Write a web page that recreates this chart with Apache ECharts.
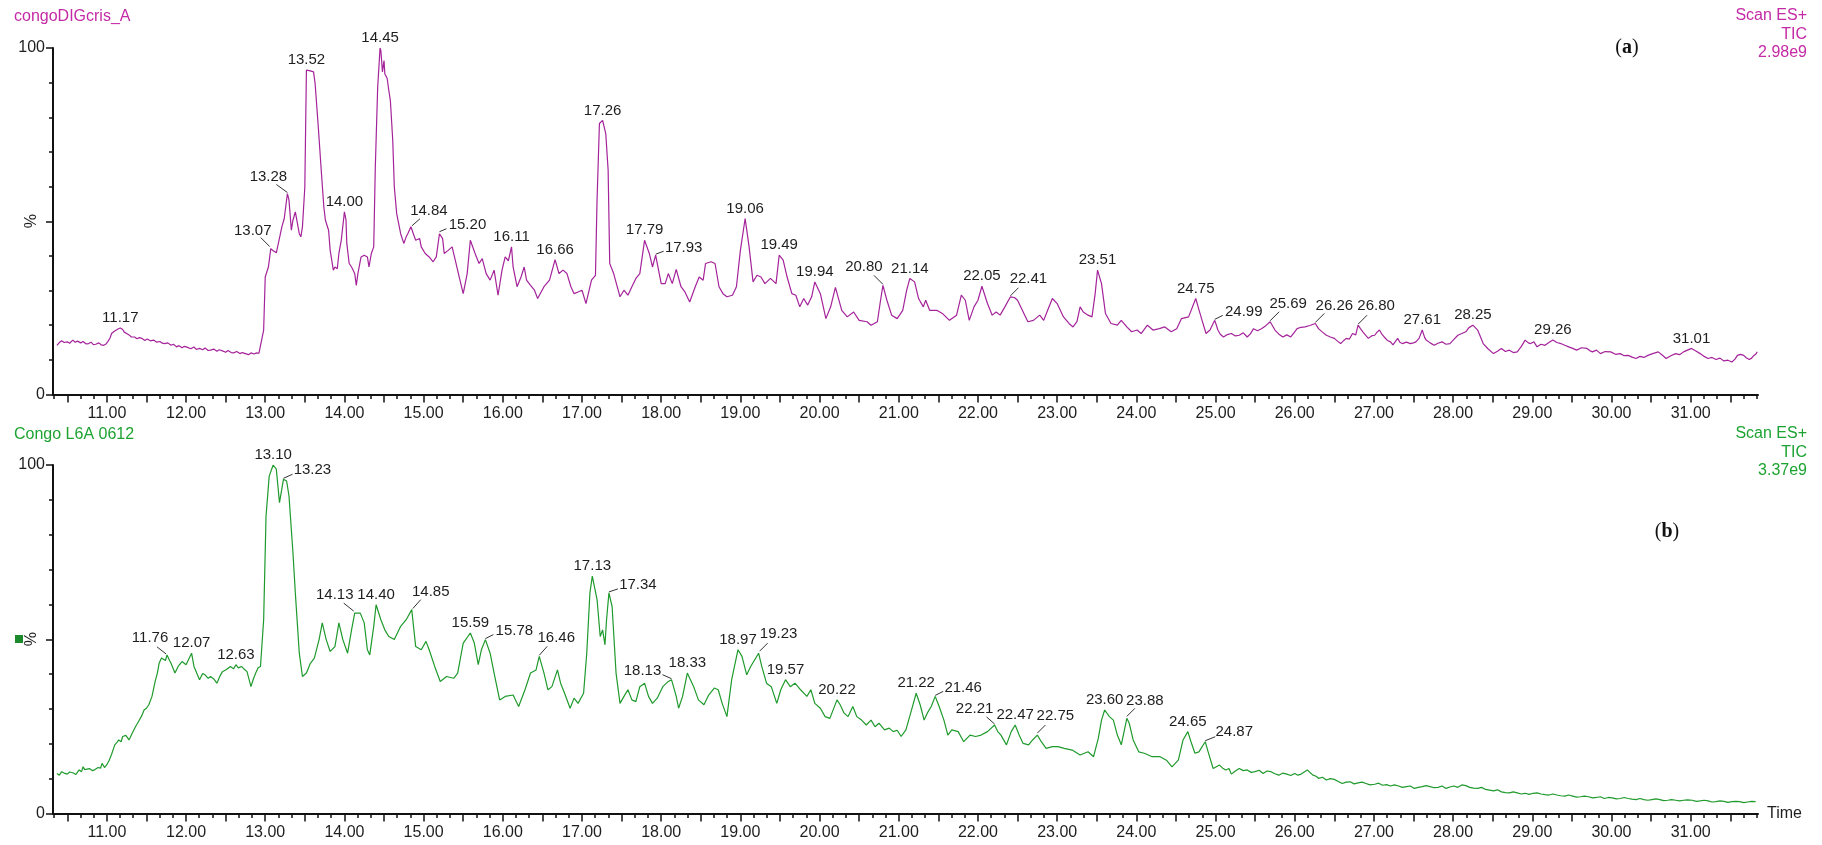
<!DOCTYPE html>
<html>
<head>
<meta charset="utf-8">
<title>TIC chromatograms</title>
<script src="https://cdn.jsdelivr.net/npm/echarts@6/dist/echarts.min.js"></script>
<style>
  html, body { margin: 0; padding: 0; background: #ffffff; }
  #chart { width: 1822px; height: 845px; }
</style>
</head>
<body>
<div id="chart"></div>
<script>
// ---- Data: retention time (min) vs relative intensity (%) ----

// Sample (a): congoDIGcris_A, Scan ES+ TIC, full scale 2.98e9
const traceA = [
  [10.37,14.2],[10.40,15.0],[10.43,15.5],[10.46,15.0],[10.50,15.2],[10.53,14.8],[10.57,15.7],[10.60,15.1],[10.63,15.4],[10.67,14.9],
  [10.70,15.3],[10.74,14.6],[10.77,14.7],[10.80,15.1],[10.83,14.4],[10.86,14.5],[10.90,14.9],[10.93,14.3],[10.96,14.2],[10.99,14.6],
  [11.01,15.2],[11.04,16.3],[11.06,17.6],[11.09,18.2],[11.11,18.75],[11.14,18.9],[11.17,19.2],[11.20,18.75],[11.22,18.0],[11.25,17.6],
  [11.28,17.2],[11.31,16.6],[11.35,16.6],[11.38,16.1],[11.41,16.4],[11.44,16.2],[11.48,15.6],[11.51,16.0],[11.55,15.5],[11.59,15.7],
  [11.63,15.1],[11.67,15.3],[11.70,14.8],[11.73,14.7],[11.77,14.9],[11.81,14.2],[11.84,14.5],[11.88,13.75],[11.91,14.1],[11.95,13.5],
  [11.98,13.9],[12.02,13.6],[12.06,13.2],[12.10,13.7],[12.13,13.0],[12.17,13.3],[12.21,12.9],[12.24,13.4],[12.28,12.7],[12.31,12.8],
  [12.35,13.1],[12.39,12.5],[12.42,12.9],[12.46,12.6],[12.50,12.2],[12.53,12.7],[12.57,12.1],[12.60,12.0],[12.64,12.4],[12.68,11.8],
  [12.71,12.1],[12.75,11.8],[12.79,11.5],[12.82,12.0],[12.86,11.7],[12.89,12.0],[12.92,11.9],[12.94,12.3],[12.98,18.6],[13.00,33.9],
  [13.04,36.8],[13.07,42.1],[13.10,41.5],[13.14,40.9],[13.16,41.4],[13.21,48.4],[13.24,50.8],[13.28,58.0],[13.30,56.1],[13.33,47.4],
  [13.35,50.3],[13.38,52.7],[13.40,52.2],[13.43,46.4],[13.45,45.5],[13.47,48.4],[13.50,59.9],[13.52,93.6],[13.57,93.4],[13.61,93.1],
  [13.63,89.7],[13.67,77.2],[13.71,63.8],[13.74,54.1],[13.76,50.3],[13.80,47.4],[13.82,41.6],[13.86,35.9],[13.88,36.8],[13.91,36.3],
  [13.93,40.7],[13.96,44.5],[14.00,52.7],[14.02,50.3],[14.03,43.6],[14.06,37.8],[14.09,36.8],[14.13,34.9],[14.15,31.5],[14.17,34.9],
  [14.21,39.7],[14.25,40.2],[14.29,39.7],[14.31,36.8],[14.34,40.7],[14.37,42.6],[14.39,65.7],[14.42,88.75],[14.45,100],[14.46,99.3],
  [14.48,93.1],[14.50,96.4],[14.51,92.6],[14.54,91.2],[14.56,87.8],[14.58,84.9],[14.61,73.4],[14.63,59.9],[14.66,52.2],[14.71,46.4],
  [14.75,43.6],[14.78,45.5],[14.80,46.4],[14.84,48.4],[14.87,46.4],[14.90,44.5],[14.95,45.0],[14.97,42.6],[15.02,40.7],[15.07,39.7],
  [15.12,38.3],[15.16,39.7],[15.20,46.4],[15.24,45.0],[15.26,40.7],[15.31,41.6],[15.36,42.6],[15.41,37.8],[15.45,33.9],[15.50,29.1],
  [15.55,34.9],[15.59,44.5],[15.65,40.7],[15.70,37.8],[15.74,39.2],[15.79,34.9],[15.84,33.0],[15.89,35.9],[15.94,28.65],[15.99,35.9],
  [16.03,39.7],[16.07,38.6],[16.11,42.6],[16.13,36.8],[16.18,31.1],[16.23,33.9],[16.27,36.8],[16.30,33.0],[16.35,31.5],[16.40,30.1],
  [16.44,27.7],[16.52,31.1],[16.59,33.0],[16.66,38.9],[16.71,34.9],[16.76,35.9],[16.81,34.9],[16.86,31.1],[16.90,29.1],[16.95,29.6],
  [17.00,30.1],[17.05,26.25],[17.12,33.0],[17.17,34.4],[17.19,56.1],[17.22,78.2],[17.26,79.1],[17.30,75.3],[17.33,64.7],[17.35,37.8],
  [17.40,34.9],[17.48,28.2],[17.53,30.1],[17.58,28.65],[17.63,31.1],[17.68,33.5],[17.73,34.9],[17.79,44.5],[17.85,40.7],[17.89,36.8],
  [17.93,40.2],[18.00,32.0],[18.05,32.0],[18.09,34.9],[18.14,32.0],[18.19,36.1],[18.25,31.1],[18.30,29.6],[18.36,26.7],[18.43,31.1],
  [18.48,33.9],[18.53,33.0],[18.56,37.8],[18.63,38.3],[18.68,37.8],[18.73,31.1],[18.78,29.1],[18.83,28.2],[18.90,28.65],[18.95,31.1],
  [19.00,41.6],[19.06,50.8],[19.11,42.6],[19.16,32.5],[19.21,34.4],[19.26,33.9],[19.31,32.0],[19.38,33.5],[19.45,32.0],[19.49,40.2],
  [19.54,38.75],[19.59,33.9],[19.65,29.1],[19.70,28.65],[19.75,25.3],[19.80,27.7],[19.85,25.8],[19.90,28.2],[19.94,32.5],[20.01,29.1],
  [20.08,21.9],[20.14,25.3],[20.20,30.9],[20.28,24.3],[20.35,22.4],[20.43,23.8],[20.50,21.4],[20.60,21.0],[20.65,20.0],[20.73,21.0],
  [20.77,27.2],[20.80,31.5],[20.85,27.2],[20.91,22.9],[20.98,21.9],[21.05,24.3],[21.10,30.1],[21.14,33.5],[21.20,32.5],[21.25,27.7],
  [21.31,25.3],[21.34,27.2],[21.39,24.3],[21.48,24.3],[21.55,23.4],[21.64,21.4],[21.73,22.9],[21.79,28.65],[21.84,27.2],[21.89,21.4],
  [21.95,25.3],[22.00,27.2],[22.05,31.25],[22.12,26.25],[22.18,22.9],[22.23,23.8],[22.28,22.9],[22.34,25.3],[22.41,28.2],[22.46,28.0],
  [22.50,27.2],[22.55,24.8],[22.63,21.0],[22.70,21.4],[22.78,22.9],[22.83,21.4],[22.88,24.3],[22.94,27.7],[23.00,26.25],[23.08,22.4],
  [23.15,20.5],[23.20,19.5],[23.25,21.0],[23.29,25.3],[23.33,23.8],[23.39,22.9],[23.44,22.4],[23.48,29.1],[23.51,35.9],[23.56,32.0],
  [23.61,23.4],[23.68,20.5],[23.76,20.0],[23.81,21.4],[23.88,19.5],[23.94,18.1],[24.01,18.6],[24.06,17.6],[24.14,20.0],[24.21,18.6],
  [24.29,19.0],[24.36,19.5],[24.44,18.1],[24.51,19.0],[24.57,21.9],[24.66,22.4],[24.75,27.7],[24.78,25.3],[24.83,21.4],[24.88,17.6],
  [24.93,18.6],[24.99,21.4],[25.03,18.6],[25.06,17.4],[25.10,16.6],[25.15,17.3],[25.20,17.6],[25.25,16.9],[25.30,17.1],[25.35,17.8],
  [25.40,16.6],[25.44,17.5],[25.48,19.0],[25.53,18.4],[25.58,19.0],[25.63,19.8],[25.69,21.0],[25.75,18.6],[25.80,17.4],[25.85,16.6],
  [25.90,17.2],[25.95,16.6],[25.99,17.8],[26.03,19.0],[26.08,19.4],[26.13,19.5],[26.19,19.9],[26.26,20.5],[26.30,19.0],[26.35,18.0],
  [26.40,17.1],[26.45,16.6],[26.50,16.2],[26.54,15.4],[26.58,14.7],[26.62,15.6],[26.65,16.2],[26.69,16.0],[26.73,17.6],[26.77,17.2],
  [26.80,20.0],[26.83,19.0],[26.86,18.1],[26.90,17.0],[26.93,16.2],[26.97,16.9],[27.01,17.1],[27.04,18.0],[27.07,18.6],[27.10,17.4],
  [27.13,16.6],[27.17,15.6],[27.21,15.2],[27.24,14.3],[27.26,13.75],[27.30,16.2],[27.33,15.0],[27.36,14.7],[27.41,15.1],[27.46,14.7],
  [27.50,14.9],[27.53,15.2],[27.57,16.2],[27.61,18.6],[27.64,16.5],[27.66,15.7],[27.71,14.9],[27.76,14.2],[27.81,14.8],[27.86,15.2],
  [27.91,14.5],[27.96,14.7],[28.01,15.9],[28.06,17.1],[28.11,17.6],[28.16,18.1],[28.20,19.3],[28.25,20.0],[28.31,18.6],[28.38,14.7],
  [28.44,13.2],[28.51,11.8],[28.56,12.5],[28.61,13.3],[28.66,12.4],[28.71,12.8],[28.76,12.1],[28.81,12.3],[28.86,13.8],[28.91,15.7],
  [28.95,14.9],[28.98,14.7],[29.02,15.2],[29.06,13.75],[29.11,14.5],[29.16,14.2],[29.21,15.0],[29.26,15.7],[29.31,15.0],[29.36,14.7],
  [29.41,14.2],[29.46,13.75],[29.51,13.3],[29.56,12.8],[29.62,13.5],[29.69,13.3],[29.73,12.6],[29.76,12.3],[29.81,12.8],[29.86,11.8],
  [29.92,12.4],[29.99,12.3],[30.05,11.6],[30.11,11.8],[30.16,11.2],[30.21,11.3],[30.26,10.8],[30.31,10.4],[30.36,11.0],[30.41,10.7],
  [30.46,11.3],[30.52,11.8],[30.59,12.3],[30.64,11.4],[30.69,10.4],[30.75,11.2],[30.81,11.8],[30.86,11.5],[30.91,12.3],[30.96,12.8],
  [31.01,13.3],[31.06,12.6],[31.12,11.8],[31.17,11.0],[31.22,10.4],[31.27,10.7],[31.32,10.1],[31.37,10.5],[31.42,9.7],[31.47,9.9],
  [31.52,9.4],[31.56,10.2],[31.59,11.3],[31.63,11.6],[31.67,11.3],[31.70,10.6],[31.74,10.1],[31.77,10.5],[31.79,11.1],[31.82,11.6],
  [31.84,12.3]
];

// Sample (b): Congo L6A 0612, Scan ES+ TIC, full scale 3.37e9
const traceB = [
  [10.37,11.5],[10.40,11.0],[10.43,12.0],[10.46,11.6],[10.50,11.3],[10.53,11.9],[10.57,11.7],[10.61,11.2],[10.65,12.5],[10.68,12.0],
  [10.70,13.4],[10.72,12.6],[10.74,12.5],[10.78,12.9],[10.82,12.3],[10.85,12.6],[10.89,13.2],[10.92,13.0],[10.94,14.4],[10.97,13.2],
  [11.00,14.0],[11.03,15.3],[11.06,17.0],[11.10,19.7],[11.13,20.5],[11.15,21.1],[11.18,20.6],[11.20,22.1],[11.24,22.4],[11.28,21.1],
  [11.32,23.0],[11.36,24.8],[11.40,26.4],[11.44,28.0],[11.47,29.7],[11.50,30.2],[11.53,31.2],[11.57,33.6],[11.61,37.9],[11.64,40.5],
  [11.66,43.1],[11.69,44.6],[11.71,45.1],[11.74,43.9],[11.76,45.5],[11.79,44.0],[11.81,43.1],[11.86,40.3],[11.90,42.2],[11.95,43.6],
  [12.00,42.7],[12.07,46.0],[12.10,42.2],[12.14,40.0],[12.17,38.4],[12.21,40.2],[12.24,39.8],[12.28,38.8],[12.31,39.3],[12.35,38.6],
  [12.39,37.4],[12.43,39.5],[12.46,40.7],[12.51,41.3],[12.56,42.2],[12.60,41.5],[12.63,42.7],[12.66,41.8],[12.70,42.2],[12.74,41.3],
  [12.77,40.7],[12.82,36.4],[12.85,38.6],[12.88,40.3],[12.91,41.8],[12.94,42.2],[12.98,55.6],[13.01,85.3],[13.05,96.8],[13.10,100],
  [13.14,98.8],[13.18,89.2],[13.23,95.9],[13.27,95.4],[13.30,91.1],[13.35,74.8],[13.38,63.3],[13.43,46.0],[13.47,39.3],[13.52,40.3],
  [13.57,43.1],[13.62,44.6],[13.68,49.9],[13.72,54.7],[13.77,49.9],[13.82,46.5],[13.88,47.9],[13.93,54.7],[13.98,49.9],[14.04,46.0],
  [14.09,52.7],[14.13,57.5],[14.20,57.5],[14.25,54.7],[14.29,47.0],[14.32,45.5],[14.37,53.7],[14.40,59.9],[14.46,55.6],[14.51,52.7],
  [14.56,50.8],[14.63,49.9],[14.71,53.7],[14.78,55.6],[14.85,58.5],[14.90,47.9],[14.97,47.0],[15.03,49.4],[15.07,47.0],[15.14,42.2],
  [15.21,37.9],[15.29,39.3],[15.38,38.8],[15.43,40.3],[15.50,48.9],[15.59,51.8],[15.64,48.9],[15.69,42.7],[15.73,47.0],[15.78,49.9],
  [15.84,46.0],[15.89,40.3],[15.96,32.6],[16.03,33.6],[16.13,34.0],[16.20,30.7],[16.28,35.5],[16.35,40.3],[16.42,41.2],[16.46,45.1],
  [16.52,40.3],[16.57,35.5],[16.62,36.4],[16.69,41.2],[16.73,37.4],[16.78,34.5],[16.85,30.2],[16.90,33.1],[16.95,31.6],[17.02,34.5],
  [17.06,46.0],[17.10,63.3],[17.13,68.1],[17.19,61.4],[17.23,50.8],[17.26,52.7],[17.29,48.4],[17.31,55.6],[17.34,63.3],[17.38,59.4],
  [17.43,40.3],[17.48,31.6],[17.53,33.6],[17.58,35.5],[17.63,32.6],[17.68,32.1],[17.73,36.4],[17.79,37.4],[17.84,33.6],[17.89,31.6],
  [17.95,33.1],[18.02,36.4],[18.09,37.9],[18.13,38.4],[18.19,33.6],[18.22,30.2],[18.27,33.6],[18.33,40.3],[18.41,36.4],[18.47,32.6],
  [18.54,31.2],[18.60,34.0],[18.67,36.0],[18.72,35.5],[18.77,31.6],[18.83,27.8],[18.89,38.4],[18.97,47.0],[19.02,45.1],[19.08,39.8],
  [19.13,42.2],[19.23,46.0],[19.27,42.2],[19.33,37.4],[19.39,36.4],[19.46,31.6],[19.51,35.5],[19.57,38.4],[19.63,36.4],[19.69,37.4],
  [19.76,35.5],[19.84,33.6],[19.89,35.5],[19.94,31.6],[20.01,30.2],[20.07,27.8],[20.13,27.3],[20.22,32.6],[20.26,31.2],[20.31,28.8],
  [20.36,27.8],[20.42,30.7],[20.47,27.8],[20.53,26.8],[20.59,25.4],[20.65,26.8],[20.70,24.9],[20.75,25.9],[20.82,24.0],[20.88,24.5],
  [20.93,23.5],[20.98,23.9],[21.03,22.1],[21.09,24.0],[21.15,28.8],[21.22,34.5],[21.27,31.2],[21.32,26.8],[21.36,28.8],[21.41,30.7],
  [21.46,33.6],[21.51,30.7],[21.57,26.8],[21.62,22.5],[21.67,24.0],[21.75,23.5],[21.82,20.6],[21.90,22.5],[21.97,22.1],[22.04,22.5],
  [22.12,23.5],[22.21,25.4],[22.25,23.5],[22.29,22.5],[22.36,19.7],[22.42,23.5],[22.47,25.4],[22.52,22.5],[22.57,20.1],[22.64,19.7],
  [22.69,21.1],[22.75,22.5],[22.80,20.6],[22.86,18.7],[22.94,19.2],[23.01,19.2],[23.09,18.7],[23.19,18.2],[23.29,16.8],[23.39,17.7],
  [23.46,16.3],[23.52,21.6],[23.56,26.8],[23.60,29.7],[23.66,27.8],[23.71,26.8],[23.76,22.5],[23.81,19.7],[23.88,27.3],[23.91,25.9],
  [23.96,21.1],[24.03,17.7],[24.10,17.3],[24.20,16.3],[24.30,16.3],[24.38,15.3],[24.45,13.4],[24.53,15.3],[24.59,21.1],[24.65,23.5],
  [24.69,20.6],[24.74,17.3],[24.79,17.7],[24.87,20.6],[24.90,18.2],[24.97,12.9],[25.05,13.9],[25.09,13.0],[25.13,12.5],[25.17,12.9],
  [25.20,11.3],[25.25,12.2],[25.30,12.9],[25.35,12.3],[25.40,12.5],[25.45,11.8],[25.50,12.0],[25.55,12.4],[25.60,11.5],[25.65,12.2],
  [25.70,12.0],[25.75,11.4],[25.80,11.0],[25.85,11.6],[25.90,11.3],[25.95,10.9],[26.00,11.5],[26.04,11.0],[26.08,11.3],[26.12,11.9],
  [26.16,12.5],[26.20,11.6],[26.23,11.0],[26.27,10.7],[26.30,10.1],[26.35,10.4],[26.40,9.6],[26.45,10.0],[26.50,9.8],[26.55,9.2],
  [26.60,8.6],[26.65,9.0],[26.70,9.1],[26.75,8.5],[26.80,8.8],[26.85,9.0],[26.90,8.6],[26.95,8.2],[27.01,8.4],[27.06,8.7],
  [27.11,8.1],[27.16,8.3],[27.21,7.9],[27.26,8.2],[27.31,7.9],[27.36,7.5],[27.41,7.7],[27.46,7.9],[27.51,7.2],[27.56,7.5],
  [27.61,7.7],[27.66,8.0],[27.71,7.7],[27.76,7.4],[27.81,7.5],[27.86,7.9],[27.91,7.2],[27.96,7.6],[28.01,7.9],[28.06,7.5],
  [28.11,8.2],[28.16,8.0],[28.21,7.5],[28.26,7.3],[28.31,7.2],[28.36,7.5],[28.41,6.9],[28.46,6.7],[28.51,6.5],[28.56,6.8],
  [28.61,6.2],[28.66,6.0],[28.71,5.9],[28.76,6.2],[28.81,5.9],[28.86,5.6],[28.91,5.8],[28.96,5.5],[29.01,5.8],[29.06,5.9],
  [29.11,5.6],[29.16,5.4],[29.21,5.3],[29.26,5.6],[29.31,5.3],[29.36,5.1],[29.41,5.0],[29.46,5.3],[29.51,5.0],[29.56,4.7],
  [29.61,4.8],[29.66,5.0],[29.71,4.8],[29.76,4.5],[29.81,4.6],[29.86,4.8],[29.91,4.3],[29.96,4.6],[30.01,4.5],[30.06,4.2],
  [30.11,4.3],[30.16,4.6],[30.21,4.3],[30.26,4.1],[30.31,4.0],[30.36,4.3],[30.41,4.0],[30.46,3.8],[30.51,4.0],[30.56,4.2],
  [30.61,4.0],[30.66,3.7],[30.71,3.8],[30.76,4.0],[30.81,3.8],[30.86,3.6],[30.91,3.8],[30.96,3.9],[31.02,3.8],[31.07,3.5],
  [31.12,3.6],[31.17,3.8],[31.22,3.6],[31.27,3.3],[31.32,3.4],[31.37,3.6],[31.42,3.5],[31.47,3.2],[31.52,3.4],[31.57,3.5],
  [31.62,3.4],[31.67,3.1],[31.72,3.3],[31.77,3.5],[31.82,3.4]
];

// Annotated peak retention times
const peaksA = [11.17, 13.07, 13.28, 13.52, 14.00, 14.45, 14.84, 15.20, 16.11, 16.66, 17.26, 17.79, 17.93, 19.06, 19.49,
  19.94, 20.80, 21.14, 22.05, 22.41, 23.51, 24.75, 24.99, 25.69, 26.26, 26.80, 27.61, 28.25, 29.26, 31.01];
const peaksB = [11.76, 12.07, 12.63, 13.10, 13.23, 14.13, 14.40, 14.85, 15.59, 15.78, 16.46, 17.13, 17.34, 18.13, 18.33,
  18.97, 19.23, 19.57, 20.22, 21.22, 21.46, 22.21, 22.47, 22.75, 23.60, 23.88, 24.65, 24.87];

// Axis ticks
const timeTicks = [11, 12, 13, 14, 15, 16, 17, 18, 19, 20, 21, 22, 23, 24, 25, 26, 27, 28, 29, 30, 31];
const pctTicks = [0, 100];

// Header texts
const headerA = { name: 'congoDIGcris_A', mode: 'Scan ES+', trace: 'TIC', scale: '2.98e9', tag: 'a' };
const headerB = { name: 'Congo L6A 0612', mode: 'Scan ES+', trace: 'TIC', scale: '3.37e9', tag: 'b' };

// ---- Presentation ----
const FONT = '"Liberation Sans", Arial, Helvetica, sans-serif';
const SERIF = '"Liberation Serif", "DejaVu Serif", serif';
const INK = '#1e1e1e';
const MAGENTA_LINE = '#a4239a';
const MAGENTA_TEXT = '#c42aa5';
const GREEN_LINE = '#1f9a2c';
const GREEN_TEXT = '#1da332';
const T_MIN = 10.32, T_MAX = 31.85;

// Label offsets for peaks whose label sits aside with a leader line:
// [label dx, label dy, leader x1, y1, x2, y2], pixels from the peak apex.
const asideA = {
  '13.07': [-18, -18, -1, -2, -10, -11],
  '13.28': [-19, -17, 0, -1, -11, -9],
  '14.84': [18, -16, 1, -1, 9, -8],
  '15.20': [28, -9, 0, -2, 7, -5],
  '17.93': [28, -7, 0, -1, 8, -4],
  '20.80': [-19, -18, 0, -1, -9, -10],
  '22.41': [18, -18, 0, -1, 8, -9],
  '24.99': [29, -8, 0, -1, 8, -5],
  '25.69': [18, -18, 0, -1, 9, -10],
  '26.26': [19, -18, 0, -1, 9, -10],
  '26.80': [18, -19, 0, -1, 9, -10]
};
const asideB = {
  '11.76': [-17, -17, -1, -1, -10, -8],
  '13.23': [29, -9, 0, -1, 9, -5],
  '14.13': [-20, -18, -1, -2, -11, -10],
  '14.85': [19, -18, 1, -1, 9, -10],
  '15.78': [29, -9, 0, -1, 8, -5],
  '16.46': [17, -18, 0, -1, 8, -10],
  '17.34': [29, -8, 0, -1, 9, -4],
  '18.13': [-29, -9, 0, -1, -9, -5],
  '19.23': [20, -19, 1, -2, 9, -10],
  '21.46': [28, -9, 0, -1, 8, -5],
  '22.21': [-20, -16, 0, -1, -8, -8],
  '22.75': [18, -19, 0, -2, 8, -10],
  '23.88': [18, -18, 0, -2, 8, -10],
  '24.87': [29, -10, 0, -1, 10, -5]
};

// intensity of the trace at the sample closest to time t
function heightAt(trace, t) {
  let best = trace[0];
  for (const p of trace) {
    if (Math.abs(p[0] - t) < Math.abs(best[0] - t)) best = p;
  }
  return best[1];
}

function peakRenderer(aside) {
  return function (params, api) {
    const t = api.value(0);
    const p = api.coord([t, api.value(1)]);
    const key = t.toFixed(2);
    const L = aside[key];
    const dx = L ? L[0] : 0;
    const dy = L ? L[1] : -10;
    const children = [{
      type: 'text',
      x: p[0] + dx,
      y: p[1] + dy,
      style: { text: key, fill: INK, font: '15px ' + FONT, align: 'center', verticalAlign: 'middle' }
    }];
    if (L) {
      children.push({
        type: 'line',
        shape: { x1: p[0] + L[2], y1: p[1] + L[3], x2: p[0] + L[4], y2: p[1] + L[5] },
        style: { stroke: '#333333', lineWidth: 1 }
      });
    }
    return { type: 'group', children: children };
  };
}

// half-minute and 10-second tick positions along the time axis
const halfTicks = [];
for (let k = 21; k <= 63; k++) halfTicks.push(k / 2);
const sixthTicks = [];
for (let k = 62; k <= 191; k++) sixthTicks.push(k / 6);

function timeAxes(gridIndex, withName) {
  const main = {
    type: 'value', gridIndex: gridIndex, min: T_MIN, max: T_MAX, position: 'bottom',
    axisLine: { show: true, onZero: false, lineStyle: { color: '#111111', width: 2 } },
    axisTick: { show: true, customValues: halfTicks, length: 8, lineStyle: { color: '#111111', width: 1.5 } },
    axisLabel: {
      show: true, customValues: timeTicks, formatter: v => v.toFixed(2),
      fontSize: 16, fontFamily: FONT, color: INK, margin: 11
    },
    splitLine: { show: false }
  };
  if (withName) {
    main.name = 'Time';
    main.nameLocation = 'end';
    main.nameGap = 9;
    main.nameTextStyle = { fontSize: 16, fontFamily: FONT, color: INK, verticalAlign: 'middle' };
  }
  const fine = {
    type: 'value', gridIndex: gridIndex, min: T_MIN, max: T_MAX, position: 'bottom', offset: 0,
    axisLine: { show: false },
    axisTick: { show: true, customValues: sixthTicks, length: 4.5, lineStyle: { color: '#111111', width: 1.5 } },
    axisLabel: { show: false },
    splitLine: { show: false }
  };
  return [main, fine];
}

function pctAxis(gridIndex, gap) {
  return {
    type: 'value', gridIndex: gridIndex, min: 0, max: 100, interval: 50,
    axisLine: { show: true, lineStyle: { color: '#111111', width: 2 } },
    axisTick: { show: true, length: 7, lineStyle: { color: '#111111', width: 1.5 } },
    minorTick: { show: true, splitNumber: 5, length: 4, lineStyle: { color: '#111111', width: 1.5 } },
    axisLabel: {
      formatter: v => (pctTicks.indexOf(v) >= 0 ? String(v) : ''),
      fontSize: 16, fontFamily: FONT, color: INK, margin: 8
    },
    splitLine: { show: false },
    minorSplitLine: { show: false },
    name: '%', nameLocation: 'middle', nameRotate: 90, nameGap: gap, nameMoveOverlap: false,
    nameTextStyle: { fontSize: 16, fontFamily: FONT, color: INK }
  };
}

function headerGraphics(h, color, y0, tagX, tagY) {
  const base = { fill: color, font: '16px ' + FONT, verticalAlign: 'middle' };
  return [
    { type: 'text', x: 14, y: y0, style: Object.assign({ text: h.name, align: 'left' }, base) },
    { type: 'text', x: 1807, y: y0 - 1, style: Object.assign({ text: h.mode, align: 'right' }, base) },
    { type: 'text', x: 1807, y: y0 + 18, style: Object.assign({ text: h.trace, align: 'right' }, base) },
    { type: 'text', x: 1807, y: y0 + 36, style: Object.assign({ text: h.scale, align: 'right' }, base) },
    {
      type: 'text', x: tagX, y: tagY,
      style: {
        text: '{p|(}{t|' + h.tag + '}{p|)}', align: 'center', verticalAlign: 'middle',
        rich: {
          p: { fontFamily: SERIF, fontSize: 20, fill: '#111111' },
          t: { fontFamily: SERIF, fontSize: 20, fontWeight: 'bold', fill: '#111111' }
        }
      }
    }
  ];
}

const chart = echarts.init(document.getElementById('chart'), null, { renderer: 'canvas' });
const xA = timeAxes(0, false);
const xB = timeAxes(1, true);

chart.setOption({
  animation: false,
  backgroundColor: '#ffffff',
  grid: [
    { left: 53, top: 48, width: 1705, height: 346.5, containLabel: false, outerBoundsMode: 'none' },
    { left: 53, top: 465, width: 1705, height: 348.5, containLabel: false, outerBoundsMode: 'none' }
  ],
  xAxis: [xA[0], xA[1], xB[0], xB[1]],
  yAxis: [pctAxis(0, 13), pctAxis(1, 13)],
  series: [
    {
      type: 'line', xAxisIndex: 0, yAxisIndex: 0, data: traceA,
      showSymbol: false, symbol: 'none', smooth: false,
      lineStyle: { color: MAGENTA_LINE, width: 1.2 }, silent: true
    },
    {
      type: 'line', xAxisIndex: 2, yAxisIndex: 1, data: traceB,
      showSymbol: false, symbol: 'none', smooth: false,
      lineStyle: { color: GREEN_LINE, width: 1.2 }, silent: true
    },
    {
      type: 'custom', xAxisIndex: 0, yAxisIndex: 0, clip: false, silent: true, z: 5,
      data: peaksA.map(t => [t, heightAt(traceA, t)]),
      encode: { x: 0, y: 1 },
      renderItem: peakRenderer(asideA)
    },
    {
      type: 'custom', xAxisIndex: 2, yAxisIndex: 1, clip: false, silent: true, z: 5,
      data: peaksB.map(t => [t, heightAt(traceB, t)]),
      encode: { x: 0, y: 1 },
      renderItem: peakRenderer(asideB)
    }
  ],
  graphic: [].concat(
    headerGraphics(headerA, MAGENTA_TEXT, 16.5, 1627, 48),
    headerGraphics(headerB, GREEN_TEXT, 435, 1667, 532),
    [{ type: 'rect', shape: { x: 15, y: 635, width: 8, height: 8 }, style: { fill: '#1a8a2a' } }]
  )
});
</script>
</body>
</html>
